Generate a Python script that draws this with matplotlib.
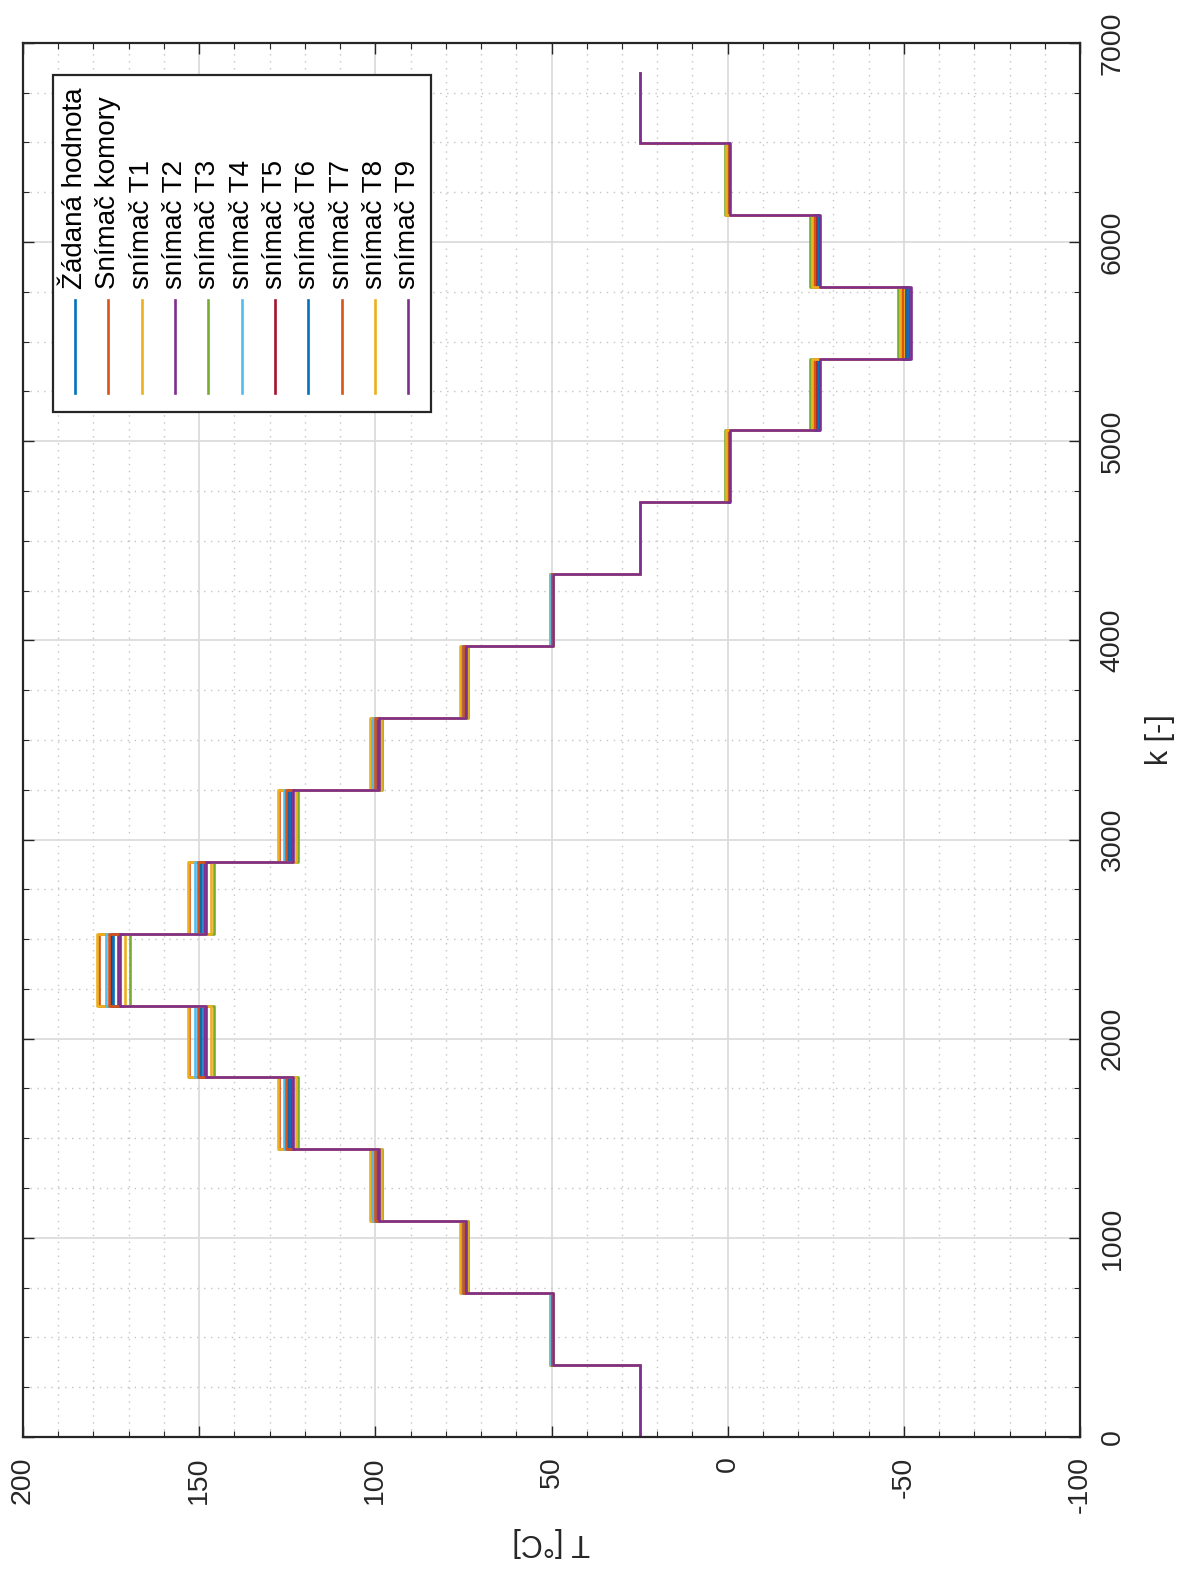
import numpy as np
import matplotlib.pyplot as plt
from matplotlib.patches import Rectangle

plt.rcParams['font.family'] = ['Liberation Sans', 'DejaVu Sans']
plt.rcParams['axes.unicode_minus'] = False

# step boundaries in samples k
k_edges = [0, 361, 722, 1083, 1444, 1805, 2166, 2527, 2888, 3249, 3610,
           3971, 4332, 4693, 5054, 5415, 5776, 6137, 6498, 6850]

# temperature on each step [degC]
zadana = [25, 50, 75, 100, 125, 150, 175, 150, 125, 100, 75, 50, 25, 0, -25, -50, -25, 0, 25]
komora = [25, 50.4, 75.8, 101.3, 127.3, 153.0, 178.5, 153.0, 127.3, 101.3, 75.8, 50.4, 25, -0.1, -25.1, -50.1, -25.1, -0.1, 25]
t1 = [25, 50.5, 76.0, 101.5, 127.5, 153.3, 179.0, 153.3, 127.5, 101.5, 76.0, 50.5, 25, -0.2, -25.3, -50.4, -25.3, -0.2, 25]
t2 = [25, 49.8, 74.5, 99.2, 123.8, 148.5, 173.0, 148.5, 123.8, 99.2, 74.5, 49.8, 25, -0.4, -25.8, -51.5, -25.8, -0.4, 25]
t3 = [25, 49.5, 73.8, 98.0, 122.0, 145.7, 169.5, 145.7, 122.0, 98.0, 73.8, 49.5, 25, 0.8, -23.5, -48.3, -23.5, 0.8, 25]
t4 = [25, 50.1, 75.3, 100.6, 126.0, 151.2, 176.5, 151.2, 126.0, 100.6, 75.3, 50.1, 25, 0.3, -24.3, -49.0, -24.3, 0.3, 25]
t5 = [25, 50.0, 74.9, 99.8, 124.9, 150.0, 175.0, 150.0, 124.9, 99.8, 74.9, 50.0, 25, -0.2, -25.3, -50.5, -25.3, -0.2, 25]
t6 = [25, 49.9, 74.8, 99.7, 124.6, 149.5, 174.5, 149.5, 124.6, 99.7, 74.8, 49.9, 25, -0.3, -25.6, -51.0, -25.6, -0.3, 25]
t7 = [25, 50.0, 75.1, 100.2, 125.3, 150.3, 175.5, 150.3, 125.3, 100.2, 75.1, 50.0, 25, 0.2, -24.6, -49.5, -24.6, 0.2, 25]
t8 = [25, 49.6, 74.0, 98.4, 122.5, 146.5, 171.0, 146.5, 122.5, 98.4, 74.0, 49.6, 25, 0.5, -24.0, -48.8, -24.0, 0.5, 25]
t9 = [25, 49.7, 74.3, 98.9, 123.4, 148.0, 172.5, 148.0, 123.4, 98.9, 74.3, 49.7, 25, -0.7, -26.2, -52.0, -26.2, -0.7, 25]

labels = ['Žádaná hodnota', 'Snímač komory', 'snímač T1', 'snímač T2', 'snímač T3',
          'snímač T4', 'snímač T5', 'snímač T6', 'snímač T7', 'snímač T8', 'snímač T9']
series = [zadana, komora, t1, t2, t3, t4, t5, t6, t7, t8, t9]
colors = ['#0072BD', '#D95319', '#EDB120', '#7E2F8E', '#77AC30', '#4DBEEE',
          '#A2142F', '#0072BD', '#D95319', '#EDB120', '#7E2F8E']

fig = plt.figure(figsize=(11.83, 15.72), dpi=100)
# the whole chart is turned by 90 deg: T runs horizontally, k vertically
ax = fig.add_axes([0.01944, 0.0859, 0.8935, 0.8868])

k_path = np.column_stack([k_edges[:-1], k_edges[1:]]).ravel()
for vals, col in zip(series, colors):
    ax.plot(np.repeat(vals, 2), k_path, color=col, lw=1.9)

ax.set_xlim(200, -100)
ax.set_ylim(0, 7000)
ax.set_xticks(np.arange(-100, 201, 50))
ax.set_xticks(np.arange(-100, 201, 10), minor=True)
ax.set_yticks(np.arange(0, 7001, 1000))
ax.set_yticks(np.arange(0, 7001, 250), minor=True)
ax.tick_params(which='both', direction='in', top=True, bottom=True, left=True, right=True,
               colors='#262626', labelsize=20.5)
ax.tick_params(which='major', length=8, width=1)
ax.tick_params(which='minor', length=4, width=0.8)
ax.tick_params(axis='y', labelleft=False, labelright=True, labelrotation=90, pad=14)
ax.tick_params(axis='x', labelrotation=90, pad=14)
for lab in ax.get_yticklabels():
    lab.set_va('center')

ax.grid(which='major', color='#dcdcdc', lw=1.3)
ax.grid(which='minor', color='#c4c4c4', lw=1.0, ls=(0, (1, 4)))
ax.set_axisbelow(True)
for sp in ax.spines.values():
    sp.set_color('#262626')
    sp.set_linewidth(1.6)

ax.set_xlabel('T [°C]', fontsize=22, rotation=180, labelpad=10, color='#262626')
ax.yaxis.set_label_position('right')
ax.set_ylabel('k [-]', fontsize=22, rotation=90, labelpad=14, color='#262626')

# legend drawn by hand, since its entries are rotated too
ax.add_patch(Rectangle((0.0284, 0.7353), 0.358, 0.2417, transform=ax.transAxes,
                       facecolor='white', edgecolor='#262626', lw=1.6, zorder=5))
for i, (lab, col) in enumerate(zip(labels, colors)):
    xpos = 0.0492 + i * 0.03153
    ax.plot([xpos, xpos], [0.749, 0.8156], transform=ax.transAxes, color=col,
            lw=1.9, zorder=6)
    ax.text(xpos, 0.8235, lab, transform=ax.transAxes, rotation=90,
            rotation_mode='anchor', ha='left', va='center', fontsize=20,
            color='black', zorder=6)

fig.savefig('out.png', dpi=100)
